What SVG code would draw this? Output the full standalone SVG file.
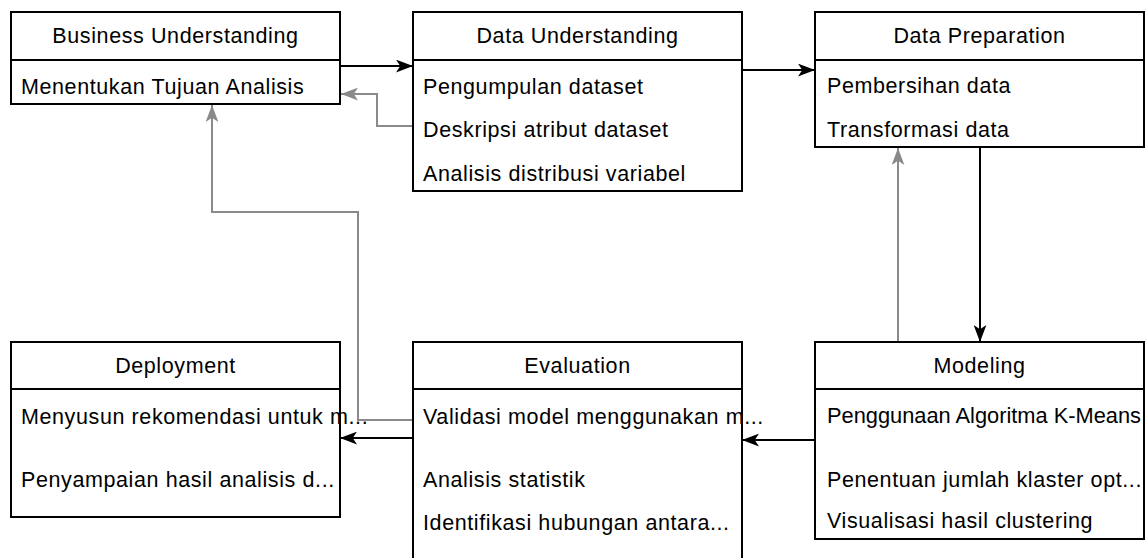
<svg xmlns="http://www.w3.org/2000/svg" width="1148" height="558" viewBox="0 0 1148 558">
<style>
.box{fill:#fff;stroke:#000;stroke-width:2}
.div{stroke:#000;stroke-width:2}
.t{font-family:"Liberation Sans",Arial,sans-serif;font-size:21.5px;fill:#000;letter-spacing:0.6px}
.c{text-anchor:middle}
.k{fill:none;stroke:#000;stroke-width:2}
.g{fill:none;stroke:#8a8a8a;stroke-width:2}
</style>
<defs>
<marker id="ab" viewBox="0 0 16 12" refX="16" refY="6" markerWidth="17" markerHeight="13" markerUnits="userSpaceOnUse" orient="auto">
<path d="M0,0 L16,6 L0,12 L4,6 Z" fill="#000"/>
</marker>
<marker id="ag" viewBox="0 0 16 12" refX="16" refY="6" markerWidth="17" markerHeight="13" markerUnits="userSpaceOnUse" orient="auto">
<path d="M0,0 L16,6 L0,12 L4,6 Z" fill="#8a8a8a"/>
</marker>
</defs>
<rect width="1148" height="558" fill="#fff"/>
<g id="connectors">
<path class="k" d="M340,66 H413" marker-end="url(#ab)"/>
<path class="k" d="M742,70 H815" marker-end="url(#ab)"/>
<path class="k" d="M980,147 V342" marker-end="url(#ab)"/>
<path class="k" d="M815,440 H742" marker-end="url(#ab)"/>
<path class="k" d="M413,438 H340" marker-end="url(#ab)"/>
<path class="g" d="M413,126 H377 V94 H341" marker-end="url(#ag)"/>
<path class="g" d="M413,420 H358 V212 H212 V105" marker-end="url(#ag)"/>
<path class="g" d="M898,342 V148" marker-end="url(#ag)"/>
</g>
<g id="business-understanding">
<rect class="box" x="11" y="12" width="329" height="92"/>
<line class="div" x1="11" y1="60" x2="340" y2="60"/>
<text class="t c" x="175.5" y="43">Business Understanding</text>
<text class="t" x="21" y="94">Menentukan Tujuan Analisis</text>
</g>
<g id="data-understanding">
<rect class="box" x="413" y="12" width="329" height="179"/>
<line class="div" x1="413" y1="60" x2="742" y2="60"/>
<text class="t c" x="577.5" y="43">Data Understanding</text>
<text class="t" x="423" y="94">Pengumpulan dataset</text>
<text class="t" x="423" y="137">Deskripsi atribut dataset</text>
<text class="t" x="423" y="181">Analisis distribusi variabel</text>
</g>
<g id="data-preparation">
<rect class="box" x="815" y="12" width="329" height="135"/>
<line class="div" x1="815" y1="60" x2="1144" y2="60"/>
<text class="t c" x="979.5" y="43">Data Preparation</text>
<text class="t" x="827" y="93">Pembersihan data</text>
<text class="t" x="827" y="137">Transformasi data</text>
</g>
<g id="deployment">
<rect class="box" x="11" y="342" width="329" height="175"/>
<line class="div" x1="11" y1="389" x2="340" y2="389"/>
<text class="t c" x="175.5" y="373">Deployment</text>
<text class="t" x="21" y="424">Menyusun rekomendasi untuk m...</text>
<text class="t" x="21" y="487">Penyampaian hasil analisis d...</text>
</g>
<g id="evaluation">
<rect class="box" x="413" y="342" width="329" height="240"/>
<line class="div" x1="413" y1="389" x2="742" y2="389"/>
<text class="t c" x="577.5" y="373">Evaluation</text>
<text class="t" x="423" y="424">Validasi model menggunakan m...</text>
<text class="t" x="423" y="487">Analisis statistik</text>
<text class="t" x="423" y="530">Identifikasi hubungan antara...</text>
</g>
<g id="modeling">
<rect class="box" x="815" y="342" width="329" height="197"/>
<line class="div" x1="815" y1="389" x2="1144" y2="389"/>
<text class="t c" x="979.5" y="373">Modeling</text>
<text class="t" x="827" y="423" style="letter-spacing:0" textLength="314" lengthAdjust="spacingAndGlyphs">Penggunaan Algoritma K-Means</text>
<text class="t" x="827" y="487">Penentuan jumlah klaster opt...</text>
<text class="t" x="827" y="528">Visualisasi hasil clustering</text>
</g>
</svg>
